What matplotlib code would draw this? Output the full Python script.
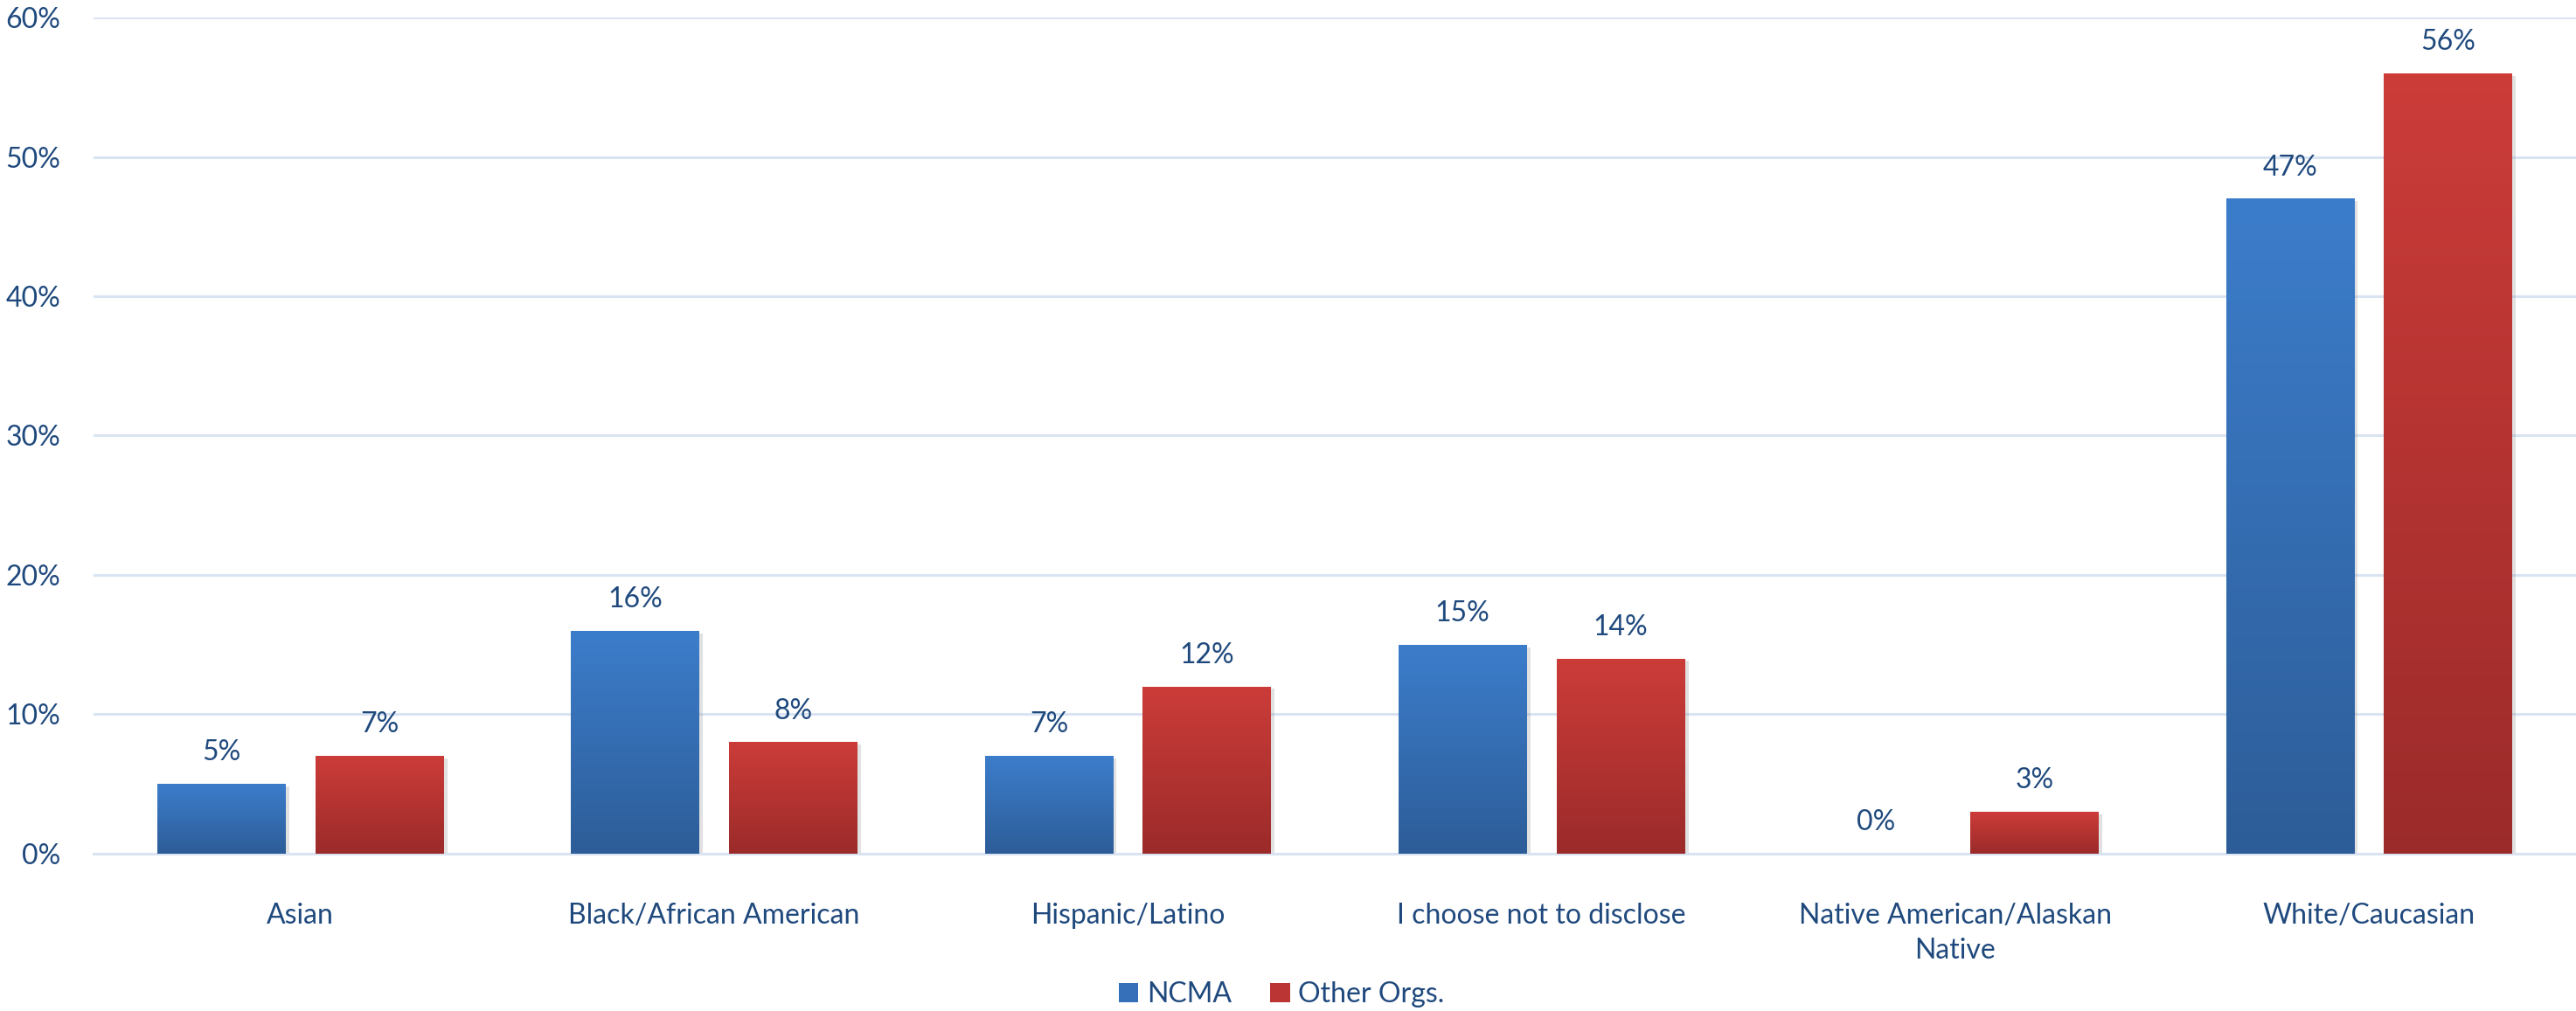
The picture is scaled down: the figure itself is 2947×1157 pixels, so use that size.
import matplotlib
matplotlib.use("Agg")
import matplotlib.pyplot as plt
import matplotlib.patheffects as pe
from matplotlib.colors import LinearSegmentedColormap
from matplotlib.patches import Patch
import numpy as np

categories = ["Asian", "Black/African American", "Hispanic/Latino",
              "I choose not to disclose", "Native American/Alaskan\nNative",
              "White/Caucasian"]
ncma = [5, 16, 7, 15, 0, 47]
other_orgs = [7, 8, 12, 14, 3, 56]
series_names = ["NCMA", "Other Orgs."]
y_ticks = [0, 10, 20, 30, 40, 50, 60]

text_color = "#1F497D"
grid_color = "#D9E3F2"
blue = ("#3C7DCB", "#2D5D98")
red = ("#CC3C39", "#9B2B2A")

plt.rcParams["font.family"] = ["Lato", "DejaVu Sans"]
plt.rcParams["font.size"] = 23

fig = plt.figure(figsize=(29.47, 11.57), dpi=100)
ax = fig.add_axes([0.0363, 0.1556, 0.9637, 0.8271])

x = np.arange(len(categories))
width = 0.31
offset = 0.191


def gradient_bars(bars, colors):
    cmap = LinearSegmentedColormap.from_list("g", [colors[1], colors[0]])
    grad = np.linspace(0, 1, 256).reshape(-1, 1)
    for b in bars:
        h = b.get_height()
        if h <= 0:
            continue
        x0 = b.get_x()
        im = ax.imshow(grad, cmap=cmap, aspect="auto", origin="lower",
                       extent=[x0, x0 + b.get_width(), 0, h], zorder=3)
        im.set_clip_path(b)


b1 = ax.bar(x - offset, ncma, width, color=blue[0], zorder=2,
            path_effects=[pe.SimplePatchShadow(offset=(3, -2), shadow_rgbFace="#888888", alpha=0.25), pe.Normal()])
b2 = ax.bar(x + offset, other_orgs, width, color=red[0], zorder=2,
            path_effects=[pe.SimplePatchShadow(offset=(3, -2), shadow_rgbFace="#888888", alpha=0.25), pe.Normal()])
gradient_bars(b1, blue)
gradient_bars(b2, red)

for bars, vals in [(b1, ncma), (b2, other_orgs)]:
    for b, v in zip(bars, vals):
        ax.annotate(f"{v}%", (b.get_x() + b.get_width() / 2, v),
                    xytext=(0, 15), textcoords="offset points",
                    ha="center", va="bottom", color=text_color, fontsize=23)

ax.set_xlim(-0.5, len(categories) - 0.5)
ax.set_ylim(0, 60)
ax.set_yticks(y_ticks)
ax.set_yticklabels([f"{t}%" for t in y_ticks])
ax.set_xticks(x)
ax.set_xticklabels(categories, linespacing=1.45)
ax.tick_params(axis="y", length=0, pad=27, colors=text_color, labelsize=23)
ax.tick_params(axis="x", length=0, pad=40, colors=text_color, labelsize=23)
for lab in ax.get_xticklabels():
    lab.set_verticalalignment("top")

ax.grid(axis="y", color=grid_color, linewidth=2.2, zorder=0)
ax.set_axisbelow(True)
for s in ["top", "right", "left"]:
    ax.spines[s].set_visible(False)
ax.spines["bottom"].set_color(grid_color)
ax.spines["bottom"].set_linewidth(2.2)

handles = [Patch(facecolor="#3670B8", edgecolor="none"),
           Patch(facecolor="#BA3533", edgecolor="none")]
fig.legend(handles, series_names, loc="center", bbox_to_anchor=(0.4975, 0.0164),
           ncol=2, frameon=False, fontsize=23, labelcolor=text_color,
           handlelength=0.7, handleheight=0.7, handletextpad=0.3, columnspacing=1.4)

fig.savefig("out.png", dpi=100, facecolor="white")
